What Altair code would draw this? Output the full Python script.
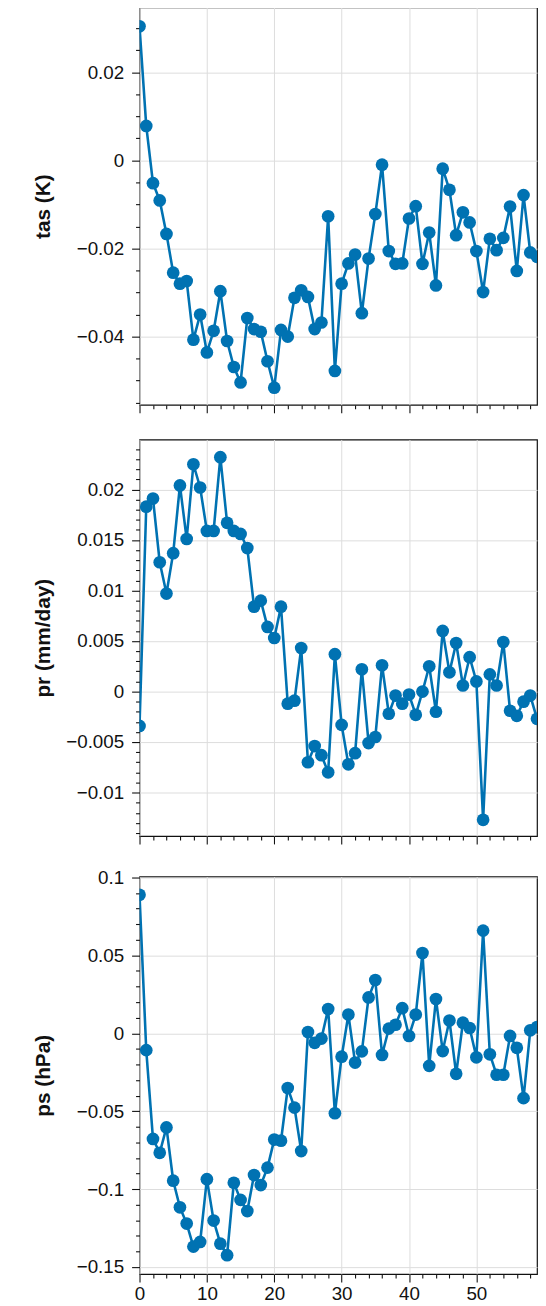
import math
import altair as alt
import pandas as pd

steps = list(range(60))

tas = [0.0304, 0.0078, -0.0052, -0.0091, -0.0167, -0.0255, -0.0280, -0.0274, -0.0407, -0.0350,
       -0.0436, -0.0387, -0.0297, -0.0410, -0.0469, -0.0504, -0.0358, -0.0383, -0.0389, -0.0456,
       -0.0516, -0.0385, -0.0400, -0.0312, -0.0295, -0.0310, -0.0383, -0.0368, -0.0127, -0.0478,
       -0.0280, -0.0234, -0.0214, -0.0347, -0.0223, -0.0122, -0.0010, -0.0206, -0.0235, -0.0234,
       -0.0132, -0.0104, -0.0235, -0.0164, -0.0284, -0.0019, -0.0067, -0.0170, -0.0118, -0.0141,
       -0.0206, -0.0299, -0.0178, -0.0204, -0.0176, -0.0105, -0.0251, -0.0079, -0.0209, -0.0219]

pr = [-0.0034, 0.0183, 0.0191, 0.0128, 0.0097, 0.0137, 0.0204, 0.0151, 0.0225, 0.0202,
      0.0159, 0.0159, 0.0232, 0.0167, 0.0159, 0.0156, 0.0142, 0.0084, 0.0090, 0.0064,
      0.0053, 0.0084, -0.0012, -0.0009, 0.0043, -0.0070, -0.0054, -0.0063, -0.0080, 0.0037,
      -0.0033, -0.0072, -0.0061, 0.0022, -0.0051, -0.0045, 0.0026, -0.0022, -0.0004, -0.0012,
      -0.0003, -0.0023, 0.0000, 0.0025, -0.0020, 0.0060, 0.0019, 0.0048, 0.0006, 0.0034,
      0.0010, -0.0127, 0.0017, 0.0006, 0.0049, -0.0019, -0.0024, -0.0010, -0.0004, -0.0027]

ps = [0.0889, -0.0108, -0.0678, -0.0767, -0.0604, -0.0946, -0.1117, -0.1221, -0.1369, -0.1339,
      -0.0936, -0.1202, -0.1350, -0.1424, -0.0959, -0.1069, -0.1141, -0.0910, -0.0974, -0.0862,
      -0.0682, -0.0689, -0.0351, -0.0477, -0.0756, 0.0008, -0.0061, -0.0034, 0.0156, -0.0513,
      -0.0150, 0.0120, -0.0188, -0.0116, 0.0230, 0.0342, -0.0139, 0.0030, 0.0055, 0.0161,
      -0.0017, 0.0120, 0.0515, -0.0209, 0.0220, -0.0114, 0.0082, -0.0260, 0.0068, 0.0034,
      -0.0154, 0.0659, -0.0135, -0.0266, -0.0266, -0.0017, -0.0093, -0.0416, 0.0019, 0.0040]

titles = ["tas (K)", "pr (mm/day)", "ps (hPa)"]

BLUE = "#0072B2"
FONT = "Liberation Sans"
MAJOR_TICK = 8
MINOR_TICK = 4


def is_major(step):
    return f"abs(datum.value / {step} - round(datum.value / {step})) < 1e-6"


def tick_values(lo, hi, minor):
    a = math.ceil(lo / minor - 1e-9)
    b = math.floor(hi / minor + 1e-9)
    return [round(k * minor, 6) for k in range(a, b + 1)]


def panel(values, title, domain, major, minor, height, show_x_labels):
    df = pd.DataFrame({"step": steps, "value": values})
    xt = is_major(10)
    yt = is_major(major)
    x_axis = alt.Axis(
        values=list(range(0, 60, 2)),
        title=None,
        labels=show_x_labels,
        labelExpr=f"{xt} ? format(datum.value, '~g') : ''",
        tickSize={"condition": {"test": xt, "value": MAJOR_TICK}, "value": MINOR_TICK},
        gridOpacity={"condition": {"test": xt, "value": 1}, "value": 0},
        labelFlush=False,
        labelOverlap=False,
        labelPadding=3,
    )
    y_axis = alt.Axis(
        values=tick_values(domain[0], domain[1], minor),
        title=title,
        labelExpr=f"{yt} ? format(datum.value, '~g') : ''",
        tickSize={"condition": {"test": yt, "value": MAJOR_TICK}, "value": MINOR_TICK},
        gridOpacity={"condition": {"test": yt, "value": 1}, "value": 0},
        labelOverlap=False,
        labelFlush=False,
        labelPadding=8,
        minExtent=78,
        maxExtent=78,
    )
    x = alt.X("step:Q", scale=alt.Scale(domain=[0, 59], nice=False, zero=False), axis=x_axis)
    y = alt.Y("value:Q", scale=alt.Scale(domain=list(domain), nice=False, zero=False), axis=y_axis)
    base = alt.Chart(df).encode(x=x, y=y)
    line = base.mark_line(color=BLUE, strokeWidth=2.6, clip=True)
    pts = base.mark_point(color=BLUE, filled=True, opacity=1, size=165, clip=True)
    return (line + pts).properties(width=402, height=height)


p1 = panel(tas, titles[0], (-0.0555, 0.0347), 0.02, 0.005, 402, False)
p2 = panel(pr, titles[1], (-0.0143, 0.02495), 0.005, 0.001, 401, False)
p3 = panel(ps, titles[2], (-0.1545, 0.1006), 0.05, 0.01, 402, True)

chart = (
    alt.vconcat(alt.vconcat(p1, p2, spacing=24), p3, spacing=22)
    .properties(padding={"left": 24, "top": -9, "right": 0, "bottom": 0})
    .configure_view(stroke="#111111", strokeWidth=1.2)
    .configure_axis(
        domain=False,
        labelFont=FONT,
        labelFontSize=19,
        labelColor="#111111",
        tickColor="#111111",
        tickWidth=1.1,
        gridColor="#dddddd",
        gridWidth=1,
        titleFont=FONT,
        titleFontSize=21,
        titleFontWeight="bold",
        titleColor="#111111",
        titlePadding=9,
    )
)

chart.save("out.html", embed_options={"renderer": "svg", "actions": False})
